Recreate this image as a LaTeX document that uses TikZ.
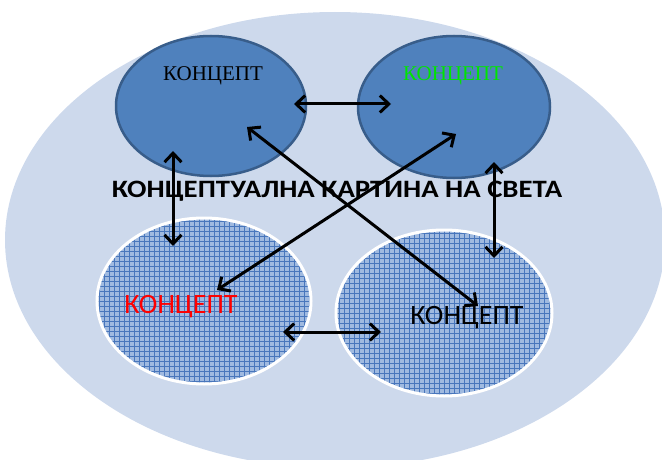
\documentclass[tikz,border=0pt]{standalone}
\usepackage{fontspec}
\setmainfont{Liberation Serif}
\newfontfamily\calfont{Carlito}
\usetikzlibrary{arrows.meta,shapes.geometric}
\definecolor{bigfill}{RGB}{205,217,236}
\definecolor{topfill}{RGB}{79,129,189}
\definecolor{topedge}{RGB}{56,93,138}
\definecolor{lowfill}{RGB}{160,186,224}
\definecolor{lowline}{RGB}{72,118,188}
\definecolor{conceptgreen}{RGB}{0,230,0}
\tikzset{
  topconcept/.style={ellipse, draw=topedge, line width=2.5pt, fill=topfill, inner sep=0pt},
  lowconcept/.style={ellipse, draw=white, line width=3pt, fill=lowfill, inner sep=0pt,
    path picture={
      \foreach \k in {-24,...,24}{
        \draw[lowline, line width=0.9pt] ([xshift=\k*5pt]path picture bounding box.north) -- ([xshift=\k*5pt]path picture bounding box.south);
        \draw[lowline, line width=0.9pt] ([yshift=\k*5pt]path picture bounding box.west) -- ([yshift=\k*5pt]path picture bounding box.east);
      }
    }},
  link/.style={line width=3pt, {Straight Barb[length=9pt,width=17pt]}-{Straight Barb[length=9pt,width=17pt]}},
  serifword/.style={font=\fontsize{21}{25}\selectfont, inner sep=0pt},
  sansword/.style={font=\calfont\fontsize{28}{32}\selectfont, inner sep=0pt},
}
\begin{document}
\begin{tikzpicture}[x=1pt,y=-1pt]
\useasboundingbox (0,0) rectangle (662,460);
\begin{scope}
\clip (0,0) rectangle (662,460);
\node[ellipse, fill=bigfill, minimum width=660pt, minimum height=456pt, inner sep=0pt] (world) at (335,240) {};
\end{scope}
\node[topconcept, minimum width=190pt, minimum height=140pt] (tl) at (211,106) {};
\node[topconcept, minimum width=192pt, minimum height=142pt] (tr) at (454,107) {};
\node[lowconcept, minimum width=214pt, minimum height=166pt] (bl) at (204,301) {};
\node[lowconcept, minimum width=216pt, minimum height=166pt] (br) at (444,313) {};
\node[serifword] (tltext) at (213,76) {КОНЦЕПТ};
\node[serifword, text=conceptgreen] (trtext) at (453,76) {КОНЦЕПТ};
\node[sansword, text=red] (bltext) at (181,307) {КОНЦЕПТ};
\node[sansword] (brtext) at (467,318) {КОНЦЕПТ};
\node[font=\calfont\bfseries\fontsize{25}{28}\selectfont, inner sep=0pt] (title) at (337,191) {\scalebox{1.15}[1]{КОНЦЕПТУАЛНА КАРТИНА НА СВЕТА}};
\coordinate (a1) at (294,104); \coordinate (b1) at (391,104);
\coordinate (a2) at (173,151); \coordinate (b2) at (173,246);
\coordinate (a3) at (247,127); \coordinate (b3) at (478,306);
\coordinate (a4) at (456,134); \coordinate (b4) at (217,290);
\coordinate (a5) at (494,162); \coordinate (b5) at (494,258);
\coordinate (a6) at (283,332); \coordinate (b6) at (381,332);
\draw[link] (a1) -- (b1);
\draw[link] (a2) -- (b2);
\draw[link] (a3) -- (b3);
\draw[link] (a4) -- (b4);
\draw[link] (a5) -- (b5);
\draw[link] (a6) -- (b6);
\end{tikzpicture}
\end{document}
